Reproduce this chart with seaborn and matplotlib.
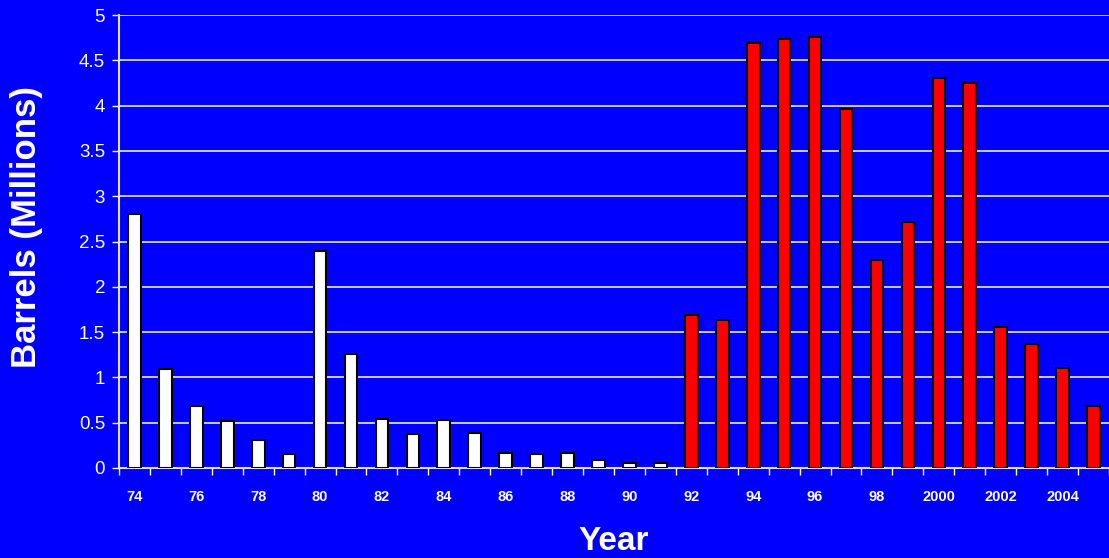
import matplotlib
matplotlib.use("Agg")
import matplotlib.pyplot as plt
from matplotlib.ticker import FixedLocator, FuncFormatter
import seaborn as sns
import pandas as pd

# Annual volumes, 1974-2005
years = list(range(1974, 2006))
barrels = [2.80, 1.09, 0.68, 0.52, 0.31, 0.15, 2.39, 1.26, 0.54, 0.37,
           0.53, 0.39, 0.16, 0.15, 0.16, 0.085, 0.055, 0.055,
           1.69, 1.63, 4.69, 4.74, 4.76, 3.96, 2.30, 2.71, 4.30, 4.25,
           1.56, 1.37, 1.10, 0.68]
tick_labels = ["74", "76", "78", "80", "82", "84", "86", "88", "90",
               "92", "94", "96", "98", "2000", "2002", "2004"]
y_ticks = [0, 0.5, 1, 1.5, 2, 2.5, 3, 3.5, 4, 4.5, 5]

BG = "#0000FF"
early_color = "#FFFFFF"
late_color = "#FF0000"

df = pd.DataFrame({"year": [str(y) for y in years], "barrels": barrels})
df["period"] = ["early" if y < 1992 else "late" for y in years]

sns.set_theme(style="white")
plt.rcParams["font.family"] = ["Liberation Sans", "DejaVu Sans"]

fig = plt.figure(figsize=(11.09, 5.58), dpi=100, facecolor=BG)
ax = fig.add_axes([0.1073, 0.1613, 0.8927, 0.8118])
ax.set_facecolor(BG)

sns.barplot(data=df, x="year", y="barrels", hue="period",
            palette={"early": early_color, "late": late_color},
            order=df["year"], dodge=False, width=0.41, saturation=1,
            edgecolor="black", linewidth=1.5, legend=False, ax=ax, zorder=3)

ax.set_xlim(-0.5, len(years) - 0.5)
ax.set_ylim(0, 5)
ax.yaxis.set_major_locator(FixedLocator(y_ticks))
ax.yaxis.set_major_formatter(FuncFormatter(lambda v, _: f"{v:g}"))
ax.grid(axis="y", color="white", linewidth=1.1, zorder=0)
ax.set_axisbelow(True)

# labels at every other year, tick marks at category boundaries
ax.xaxis.set_major_locator(FixedLocator(list(range(0, len(years), 2))))
ax.set_xticklabels(tick_labels)
ax.xaxis.set_minor_locator(FixedLocator([i - 0.5 for i in range(len(years) + 1)]))
ax.tick_params(axis="x", which="major", length=0, pad=16, labelsize=10.5,
               labelcolor="white")
ax.tick_params(axis="x", which="minor", bottom=True, length=5, width=1,
               color="white", direction="out")
for lab in ax.get_xticklabels():
    lab.set_fontweight("bold")
ax.tick_params(axis="y", left=True, length=5, width=1, color="white",
               labelsize=13.5, labelcolor="white", pad=5)

for side in ["top", "right"]:
    ax.spines[side].set_visible(False)
for side in ["left", "bottom"]:
    ax.spines[side].set_color("#E0E0FF")
    ax.spines[side].set_linewidth(1.5)

ax.set_xlabel("Year", fontsize=24, fontweight="bold", color="white", labelpad=16)
ax.set_ylabel("Barrels (Millions)", fontsize=25, fontweight="bold",
              color="white", va="center")
ax.yaxis.set_label_coords(-0.093, 0.532)

fig.savefig("out.png", dpi=100, facecolor=BG)
